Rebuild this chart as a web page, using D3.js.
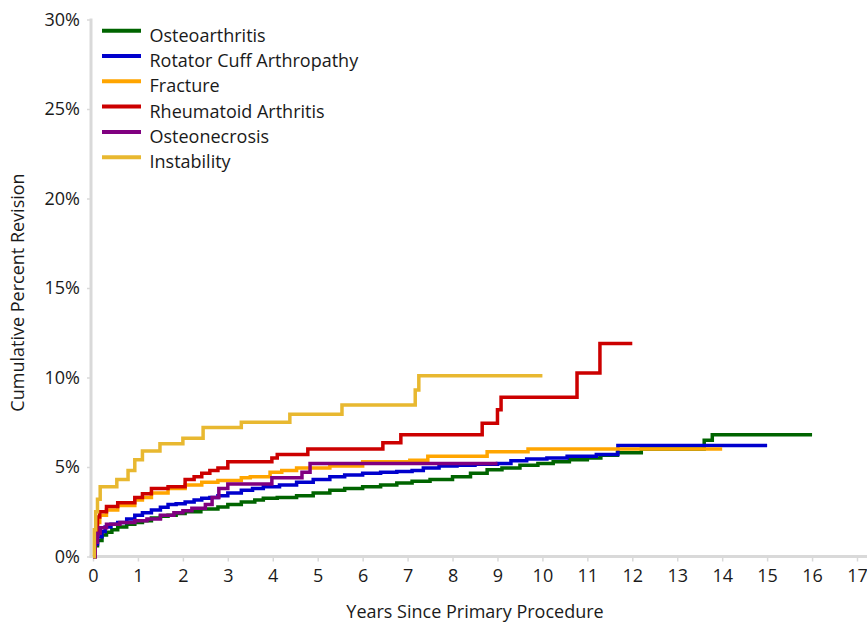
<!DOCTYPE html>
<html>
<head>
<meta charset="utf-8">
<script src="https://cdn.jsdelivr.net/npm/d3@7"></script>
<style>
    body { margin: 0; background: #fff; }
    svg text { font-family: 'Open Sans', 'Noto Sans', sans-serif; fill: #1a1a1a; }
</style>
</head>
<body>
<svg id="chart" width="867" height="626"></svg>
<script>
// [years, cumulative percent revision]
const osteoarthritis = [[0,0],[0.05,0.6],[0.1,0.9],[0.2,1.2],[0.3,1.35],[0.42,1.5],[0.55,1.65],[0.75,1.8],[0.93,1.9],[1.1,2.0],[1.3,2.15],[1.5,2.25],[1.67,2.3],[1.85,2.4],[2.05,2.5],[2.4,2.65],[2.78,2.77],[3.0,2.9],[3.3,3.05],[3.6,3.15],[3.79,3.25],[4.1,3.3],[4.53,3.4],[4.9,3.55],[5.27,3.7],[5.6,3.8],[6.0,3.9],[6.4,4.0],[6.76,4.1],[7.1,4.2],[7.5,4.3],[8.0,4.45],[8.4,4.65],[8.77,4.85],[9.1,4.95],[9.5,5.1],[9.9,5.2],[10.24,5.3],[10.6,5.4],[11.0,5.5],[11.3,5.65],[11.67,5.8],[12.2,6.0],[13.6,6.5],[13.78,6.8],[16.0,6.8]]
const rotatorCuff = [[0,0],[0.05,0.7],[0.1,1.1],[0.2,1.4],[0.27,1.65],[0.4,1.8],[0.55,1.9],[0.75,2.1],[0.93,2.3],[1.1,2.45],[1.3,2.6],[1.5,2.75],[1.67,2.9],[1.85,2.95],[2.05,3.05],[2.25,3.15],[2.42,3.25],[2.6,3.3],[2.78,3.4],[3.0,3.55],[3.3,3.7],[3.55,3.8],[3.79,3.9],[4.15,4.0],[4.53,4.15],[4.9,4.3],[5.27,4.45],[5.6,4.55],[6.0,4.65],[6.4,4.7],[6.76,4.75],[7.1,4.8],[7.35,4.95],[7.7,5.05],[8.1,5.1],[8.5,5.15],[9.0,5.2],[9.3,5.35],[9.65,5.45],[10.1,5.5],[10.55,5.6],[11.2,5.7],[11.68,6.2],[15.0,6.2]]
const fracture = [[0,0],[0.05,1.2],[0.1,1.9],[0.15,2.3],[0.3,2.6],[0.55,2.85],[0.93,3.15],[1.1,3.3],[1.3,3.55],[1.67,3.8],[2.05,4.0],[2.42,4.15],[2.78,4.25],[3.3,4.4],[3.5,4.45],[3.94,4.7],[4.2,4.8],[4.53,4.95],[5.27,5.05],[6.0,5.3],[7.05,5.38],[7.45,5.6],[8.77,5.85],[9.68,6.0],[14.0,6.0]]
const rheumatoid = [[0,0],[0.05,1.3],[0.1,2.2],[0.15,2.5],[0.3,2.8],[0.55,3.0],[0.93,3.3],[1.1,3.5],[1.3,3.8],[1.67,3.9],[2.05,4.3],[2.25,4.45],[2.42,4.65],[2.6,4.8],[2.78,4.95],[3.0,5.3],[3.98,5.5],[4.1,5.7],[4.78,6.0],[6.45,6.35],[6.85,6.8],[8.66,7.45],[9.0,8.2],[9.08,8.9],[10.77,10.25],[11.28,11.9],[12.0,11.9]]
const osteonecrosis = [[0,0],[0.05,0.8],[0.1,1.3],[0.16,1.6],[0.3,1.8],[0.6,1.9],[0.93,2.0],[1.2,2.1],[1.5,2.3],[1.8,2.45],[2.0,2.55],[2.2,2.7],[2.5,2.9],[2.65,3.3],[2.8,3.8],[3.0,4.05],[3.98,4.4],[4.65,4.7],[4.83,5.2],[9.0,5.2]]
const instability = [[0,0],[0.03,1.5],[0.06,2.5],[0.1,3.2],[0.16,3.9],[0.53,4.3],[0.78,4.8],[0.93,5.4],[1.1,5.9],[1.49,6.3],[2.0,6.6],[2.45,7.2],[3.3,7.5],[4.38,7.95],[5.54,8.46],[7.17,9.3],[7.25,10.1],[10.0,10.1]]

const names = ['Osteoarthritis', 'Rotator Cuff Arthropathy', 'Fracture', 'Rheumatoid Arthritis', 'Osteonecrosis', 'Instability']
const colors = ['#006400', '#0000cd', '#ffa500', '#cc0000', '#800080', '#e8b830']
const series = [osteoarthritis, rotatorCuff, fracture, rheumatoid, osteonecrosis, instability]

const xTicks = d3.range(0, 18)
const yTicks = [0, 5, 10, 15, 20, 25, 30]

const svg = d3.select('#chart')
const margin = {top: 19.5, right: 10, bottom: 69.5, left: 93}
const width = 867 - margin.left - margin.right
const height = 626 - margin.top - margin.bottom

const g = svg.append('g').attr('transform', `translate(${margin.left},${margin.top})`)

const x = d3.scaleLinear().domain([0, 17]).range([0, width])
const y = d3.scaleLinear().domain([0, 30]).range([height, 0])

// y axis
const yAxis = g.append('g')
    .call(d3.axisLeft(y).tickValues(yTicks).tickSize(4).tickPadding(7).tickFormat(d => d + '%'))
yAxis.select('.domain').remove()
yAxis.selectAll('line').attr('stroke', '#d9d9d9').attr('stroke-width', 1.5).attr('transform', 'translate(-2,0)')
yAxis.selectAll('text').style('font-size', '18px').attr('dx', '-2')
g.append('line')
    .attr('x1', -2).attr('x2', -2).attr('y1', -1).attr('y2', height + 1.5)
    .attr('stroke', '#d9d9d9').attr('stroke-width', 3)

// x axis
const xAxis = g.append('g')
    .attr('transform', `translate(0,${height})`)
    .call(d3.axisBottom(x).tickValues(xTicks).tickSize(5).tickPadding(8))
xAxis.select('.domain').remove()
xAxis.selectAll('line').attr('stroke', '#d9d9d9').attr('stroke-width', 1.5)
xAxis.selectAll('text').style('font-size', '18px')
g.append('line')
    .attr('x1', -3.5).attr('x2', width + margin.right).attr('y1', height).attr('y2', height)
    .attr('stroke', '#d9d9d9').attr('stroke-width', 3)

// titles
g.append('text')
    .attr('x', width / 2).attr('y', height + 61)
    .attr('text-anchor', 'middle')
    .style('font-size', '18px')
    .text('Years Since Primary Procedure')
g.append('text')
    .attr('transform', `translate(${-69},${273}) rotate(-90)`)
    .attr('text-anchor', 'middle')
    .style('font-size', '18px')
    .text('Cumulative Percent Revision')

// curves
const line = d3.line()
    .x(d => x(d[0]))
    .y(d => y(d[1]))
    .curve(d3.curveStepAfter)

g.selectAll('path.km')
    .data(series)
    .join('path')
    .attr('class', 'km')
    .attr('fill', 'none')
    .attr('stroke', (d, i) => colors[i])
    .attr('stroke-width', 3.5)
    .attr('d', line)

// legend
const legend = svg.append('g').attr('transform', 'translate(102,30.7)')
const rows = legend.selectAll('g')
    .data(names)
    .join('g')
    .attr('transform', (d, i) => `translate(0,${i * 25.3})`)
rows.append('line')
    .attr('x1', 0).attr('x2', 39)
    .attr('stroke', (d, i) => colors[i])
    .attr('stroke-width', 4)
rows.append('text')
    .attr('x', 47.5).attr('y', 11)
    .style('font-size', '18px')
    .text(d => d)
</script>
</body>
</html>
